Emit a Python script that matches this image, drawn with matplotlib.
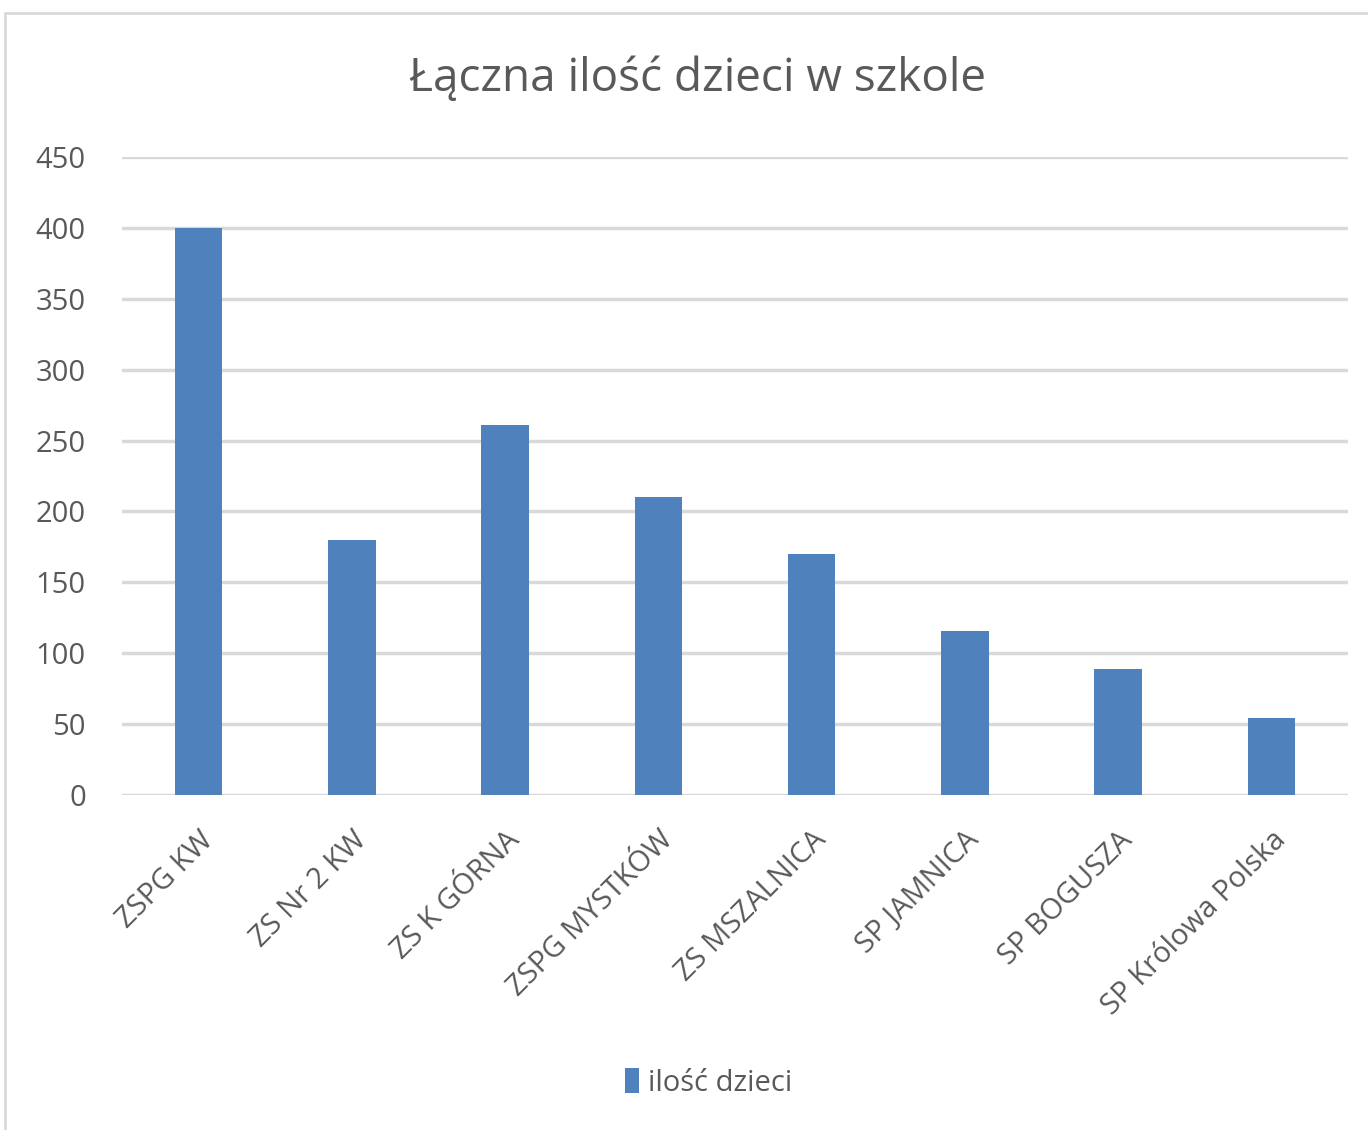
import matplotlib
matplotlib.use('Agg')
import matplotlib.pyplot as plt
from matplotlib.patches import Rectangle

schools = ["ZSPG KW", "ZS Nr 2 KW", "ZS K GÓRNA", "ZSPG MYSTKÓW",
           "ZS MSZALNICA", "SP JAMNICA", "SP BOGUSZA", "SP Królowa Polska"]
children = [400, 180, 261, 210, 170, 116, 89, 54]
yticks = [0, 50, 100, 150, 200, 250, 300, 350, 400, 450]

plt.rcParams['font.family'] = ['Open Sans', 'DejaVu Sans']
text_col = '#595959'

fig = plt.figure(figsize=(13.68, 11.3), dpi=100)
fig.patches.append(Rectangle((5 / 1368, -0.01), 1.02, 1 - 13 / 1130 + 0.01,
                             transform=fig.transFigure, fill=False,
                             edgecolor='#D9D9D9', linewidth=2))

ax = fig.add_axes([122 / 1368, 1 - 795 / 1130, 1226 / 1368, 638 / 1130])
x = range(len(schools))
ax.bar(x, children, width=0.31, color='#4F81BD', label='ilość dzieci', zorder=3)
ax.set_xlim(-0.5, len(schools) - 0.5)
ax.set_ylim(0, 450)
ax.set_yticks(yticks)
ax.yaxis.grid(True, color='#D9D9D9', linewidth=2.5, zorder=0)
ax.set_axisbelow(True)
for s in ax.spines.values():
    s.set_visible(False)
ax.tick_params(length=0, labelsize=21, colors=text_col)
ax.tick_params(axis='y', pad=26)
ax.set_xticks(list(x))
ax.set_xticklabels(schools, rotation=45, ha='right', rotation_mode='anchor')
ax.tick_params(axis='x', pad=22)

fig.text(0.51, 1 - 79 / 1130, "Łączna ilość dzieci w szkole", ha='center', va='center',
         fontsize=33, color=text_col)
fig.legend(loc='center', bbox_to_anchor=(0.518, 1 - 1083 / 1130), frameon=False,
           fontsize=21, labelcolor=text_col, handlelength=0.5, handleheight=0.9,
           handletextpad=0.3)

fig.savefig("out.png", dpi=100)
plt.close()
